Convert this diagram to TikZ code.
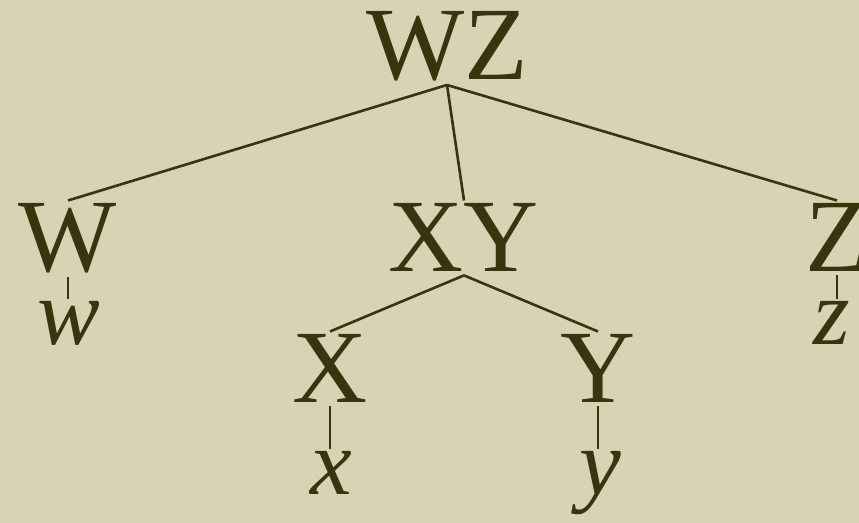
\documentclass[tikz,border=0pt]{standalone}
\usepackage{fontspec}
\setmainfont{Liberation Serif}
\definecolor{bgc}{HTML}{D7D4B6}
\definecolor{ink}{HTML}{38340E}
\begin{document}
\begin{tikzpicture}[x=0.5pt,y=-0.5pt,
  lbl/.style={anchor=base,inner sep=1.5pt,text=ink,font=\fontsize{52}{60}\selectfont},
  ilbl/.style={lbl,inner sep=1pt,font=\fontsize{47}{56}\selectfont\itshape},
  edge/.style={draw=ink,line width=1.3pt},
  stem/.style={draw=ink,line width=1pt}]
\fill[bgc] (0,0) rectangle (859,523);
\useasboundingbox (0,0) rectangle (859,523);
\node[lbl] (WZ) at (447,80) {WZ};
\node[lbl] (W) at (68,272) {W};
\node[lbl] (XY) at (464,272) {XY};
\node[lbl] (Z) at (837,272) {Z};
\node[ilbl] (w) at (69,345) {w};
\node[ilbl] (z) at (832,345) {z};
\node[lbl] (X) at (330,403) {X};
\node[lbl] (Y) at (598,403) {Y};
\node[ilbl] (x) at (331,495) {x};
\node[ilbl] (y) at (600,495) {y};
\draw[edge] (WZ.south) -- (W.north);
\draw[edge] (WZ.south) -- (XY.north);
\draw[edge] (WZ.south) -- (Z.north);
\draw[stem] (W.south) -- (W.south |- w.north);
\draw[stem] (Z.south) -- (Z.south |- z.north);
\draw[edge] (XY.south) -- (X.north);
\draw[edge] (XY.south) -- (Y.north);
\draw[stem] (X.south) -- (X.south |- x.north);
\draw[stem] (Y.south) -- (Y.south |- y.north);
\end{tikzpicture}
\end{document}
